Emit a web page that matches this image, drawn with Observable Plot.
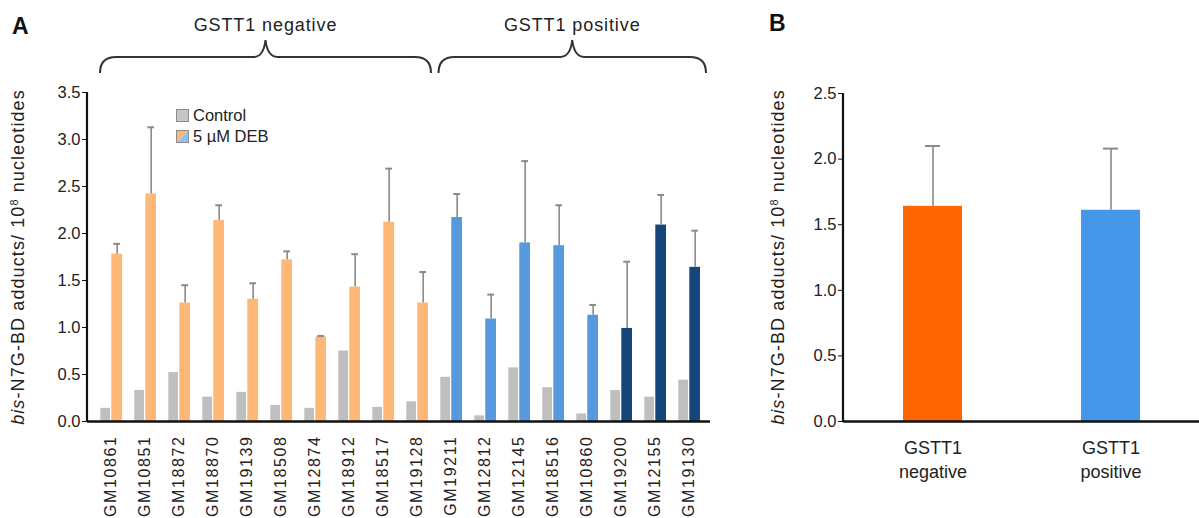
<!DOCTYPE html>
<html><head><meta charset="utf-8">
<script src="https://cdn.jsdelivr.net/npm/d3@7"></script>
<script src="https://cdn.jsdelivr.net/npm/@observablehq/plot@0.6"></script>
<style>
body{margin:0;background:#fff;font-family:"Liberation Sans",Arial,sans-serif;color:#222}
#wrap{position:relative;width:1199px;height:518px;overflow:hidden;background:#fff}
.abs{position:absolute}
.panel{position:absolute;font-weight:bold;font-size:23px;color:#111;line-height:1}
.ylab{position:absolute;white-space:nowrap;font-size:18px;letter-spacing:1.1px;transform:translate(-50%,-50%) rotate(-90deg);color:#222}
.ylab sup{font-size:0.6em;vertical-align:0.55em;line-height:0}
.leg{position:absolute;font-size:16.5px;display:flex;align-items:center;gap:4px;line-height:1;color:#222}
.leg svg{display:block}
</style></head><body>
<div id="wrap">
  <div id="chartA" class="abs" style="left:0;top:0"></div>
  <div id="chartB" class="abs" style="left:740px;top:0"></div>
  <div class="panel" style="left:12px;top:15px">A</div>
  <div class="panel" style="left:769px;top:12px">B</div>
  <div class="ylab" style="left:18px;top:257px"><i>bis</i>-N7G-BD adducts/ 10<sup>8</sup> nucleotides</div>
  <div class="ylab" style="left:778px;top:257px"><i>bis</i>-N7G-BD adducts/ 10<sup>8</sup> nucleotides</div>
  <div class="leg" style="left:176px;top:107px"><svg width="13" height="13"><rect x="0.5" y="0.5" width="12" height="12" fill="#c6c6c6" stroke="#8c8c8c"/></svg><span id="legC"></span></div>
  <div class="leg" style="left:176px;top:128px"><svg width="13" height="13"><path d="M0.5,0.5H12.5L0.5,12.5Z" fill="#fdb877"/><path d="M12.5,0.5V12.5H0.5Z" fill="#8ec1f0"/><rect x="0.5" y="0.5" width="12" height="12" fill="none" stroke="#8c8c8c"/></svg><span id="legD"></span></div>
</div>
<script>
// ---------- data (panel A) ----------
const samples = ["GM10861","GM10851","GM18872","GM18870","GM19139","GM18508","GM12874","GM18912","GM18517","GM19128",
                 "GM19211","GM12812","GM12145","GM18516","GM10860","GM19200","GM12155","GM19130"];
const status = ["negative","negative","negative","negative","negative","negative","negative","negative","negative","negative",
                "positive","positive","positive","positive","positive","positive*","positive*","positive*"];
const controlMean = [0.14,0.33,0.52,0.26,0.31,0.17,0.14,0.75,0.15,0.21,0.47,0.06,0.57,0.36,0.08,0.33,0.26,0.44];
const debMean     = [1.78,2.42,1.26,2.14,1.30,1.72,0.90,1.43,2.12,1.26,2.17,1.09,1.90,1.87,1.13,0.99,2.09,1.64];
const debErr      = [0.11,0.71,0.19,0.16,0.17,0.09,0.01,0.35,0.57,0.33,0.25,0.26,0.87,0.43,0.11,0.71,0.32,0.39];
const yTicksA = [0,0.5,1,1.5,2,2.5,3,3.5];
const legendLabels = ["Control","5 µM DEB"];
const braceLabels = ["GSTT1 negative","GSTT1 positive"];
// ---------- data (panel B) ----------
const bGroups = ["GSTT1 negative","GSTT1 positive"];
const bMean = [1.64,1.61];
const bErr  = [0.46,0.47];
const yTicksB = [0,0.5,1,1.5,2,2.5];

document.getElementById("legC").textContent = legendLabels[0];
document.getElementById("legD").textContent = legendLabels[1];

const rows = samples.map((s,i)=>({sample:s, status:status[i], control:controlMean[i], deb:debMean[i], err:debErr[i]}));
const fmt = d3.format(".1f");
const baseStyle = {fontFamily:"'Liberation Sans', Arial, sans-serif", fontSize:"16px", color:"#222", background:"transparent", overflow:"visible", maxWidth:"none"};
const errColor = "#8a8a8a";

const A = Plot.plot({
  width:725, height:518, marginLeft:87, marginRight:15, marginTop:92, marginBottom:97,
  style: baseStyle,
  x:{type:"band", domain:samples, paddingInner:0, paddingOuter:0.08, label:null},
  y:{domain:[0,3.5], label:null},
  color:{domain:["negative","positive","positive*"], range:["#fdb877","#5699dc","#15467a"]},
  marks:[
    Plot.barY(rows,{x:"sample", y:"control", fill:"#bfbfbf", insetLeft:7.3, insetRight:17}),
    Plot.barY(rows,{x:"sample", y:"deb", fill:"status", insetLeft:18.3, insetRight:5}),
    Plot.ruleX(rows,{x:"sample", y1:"deb", y2:d=>d.deb+d.err, dx:6.65, stroke:errColor, strokeWidth:1.6}),
    Plot.tickY(rows,{x:"sample", y:d=>d.deb+d.err, insetLeft:20.3, insetRight:7, stroke:errColor, strokeWidth:2}),
    Plot.ruleY([0],{stroke:"#111", strokeWidth:2.5}),
    Plot.axisY({ticks:yTicksA, tickFormat:fmt, tickSize:5, tickPadding:2, fontSize:16.5, label:null, stroke:"#111"}),
    Plot.axisX({tickRotate:-90, tickSize:0, tickPadding:14, fontSize:16, label:null})
  ]
});
document.getElementById("chartA").append(A);

// left axis line + braces
{
  const xs = A.scale("x"), ys = A.scale("y");
  const svg = d3.select(A);
  const x0 = xs.range[0];
  svg.append("line").attr("x1",x0).attr("x2",x0).attr("y1",ys.apply(3.5)).attr("y2",ys.apply(0))
     .attr("stroke","#111").attr("stroke-width",2.2);
  svg.selectAll("g[aria-label='x-axis tick label'] text").style("letter-spacing","1.6px");
  const groups = [
    samples.filter((s,i)=>status[i]==="negative"),
    samples.filter((s,i)=>status[i]!=="negative")
  ];
  const yb = 57, yt = 73, yp = 40;
  groups.forEach((g,k)=>{
    const a = xs.apply(g[0]) + (k===0 ? 7 : 5.5);
    const b = xs.apply(g[g.length-1]) + (k===0 ? 32 : 35);
    const m = (a+b)/2;
    const d = `M${a},${yt} Q${a},${yb} ${a+16},${yb} L${m-12},${yb} Q${m-2},${yb} ${m},${yp} Q${m+2},${yb} ${m+12},${yb} L${b-16},${yb} Q${b},${yb} ${b},${yt}`;
    svg.append("path").attr("d",d).attr("fill","none").attr("stroke","#333").attr("stroke-width",2);
    svg.append("text").attr("x",m).attr("y",31).attr("text-anchor","middle")
       .style("font-size","18px").style("letter-spacing","0.9px").attr("fill","#222").text(braceLabels[k]);
  });
}

// ---------- panel B ----------
const bRows = bGroups.map((g,i)=>({group:g, mean:bMean[i], err:bErr[i]}));
const B = Plot.plot({
  width:459, height:518, marginLeft:103, marginRight:0, marginTop:93, marginBottom:97,
  style: baseStyle,
  x:{type:"band", domain:bGroups, paddingInner:0.67, paddingOuter:0.335, label:null},
  y:{domain:[0,2.5], label:null},
  color:{domain:bGroups, range:["#ff6600","#4696ea"]},
  marks:[
    Plot.barY(bRows,{x:"group", y:"mean", fill:"group"}),
    Plot.ruleX(bRows,{x:"group", y1:"mean", y2:d=>d.mean+d.err, stroke:errColor, strokeWidth:1.6}),
    Plot.tickY(bRows,{x:"group", y:d=>d.mean+d.err, insetLeft:22, insetRight:22, stroke:errColor, strokeWidth:2}),
    Plot.ruleY([0],{stroke:"#111", strokeWidth:2.5}),
    Plot.axisY({ticks:yTicksB, tickFormat:fmt, tickSize:5, tickPadding:2, fontSize:16.5, label:null, stroke:"#111"}),
    Plot.axisX({tickSize:0, tickPadding:16, fontSize:18, lineHeight:1.3, tickFormat:d=>d.replace(" ","\n"), label:null})
  ]
});
document.getElementById("chartB").append(B);
{
  const xs = B.scale("x"), ys = B.scale("y");
  const svg = d3.select(B);
  const x0 = xs.range[0];
  svg.append("line").attr("x1",x0).attr("x2",x0).attr("y1",ys.apply(2.5)).attr("y2",ys.apply(0))
     .attr("stroke","#111").attr("stroke-width",2.2);
}
</script>
</body></html>
